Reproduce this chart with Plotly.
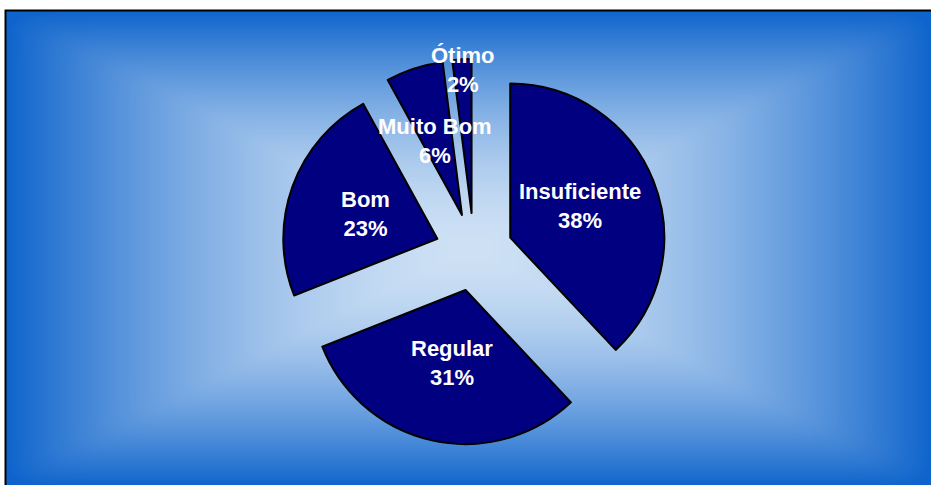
import base64
import struct
import zlib

import numpy as np
import plotly.graph_objects as go

# ---- data ----
labels = ["Insuficiente", "Regular", "Bom", "Muito Bom", "Ótimo"]
values = [38, 31, 23, 6, 2]
label_px = [(580, 206), (452, 363), (365, 214), (435, 141), (463, 70)]

W, H = 931, 485

# ---- background gradient (rectangular path gradient) ----
bx0, by0, bx1, by1 = 6, 11, 933, 487
bw, bh = bx1 - bx0, by1 - by0
xs = np.abs((np.arange(bw) + 0.5 - bw / 2) / (bw / 2))
ys = np.abs((np.arange(bh) + 0.5 - bh / 2) / (bh / 2))
p = 30.0
t = (xs[None, :] ** p + ys[:, None] ** p) ** (1 / p)
f = np.clip(t, 0, 1) ** 1.7
center = np.array([206, 225, 245], dtype=float)
edge = np.array([14, 100, 204], dtype=float)
img = (center[None, None, :] * (1 - f[..., None]) + edge[None, None, :] * f[..., None]).astype(np.uint8)


def png_bytes(arr):
    h, w, _ = arr.shape
    raw = b"".join(b"\x00" + arr[r].tobytes() for r in range(h))

    def chunk(tag, data):
        c = struct.pack(">I", len(data)) + tag + data
        return c + struct.pack(">I", zlib.crc32(tag + data) & 0xFFFFFFFF)

    return (b"\x89PNG\r\n\x1a\n"
            + chunk(b"IHDR", struct.pack(">IIBBBBB", w, h, 8, 2, 0, 0, 0))
            + chunk(b"IDAT", zlib.compress(raw, 9))
            + chunk(b"IEND", b""))


uri = "data:image/png;base64," + base64.b64encode(png_bytes(img)).decode()

# ---- pie ----
pull = 0.253
cx, cy, half = 474, 252, 193
fig = go.Figure(go.Pie(
    labels=labels, values=values, sort=False, direction="clockwise", rotation=0,
    pull=[pull] * len(values),
    marker=dict(colors=["#000080"] * len(values), line=dict(color="black", width=2)),
    textinfo="none", hoverinfo="skip", showlegend=False,
    domain=dict(x=[(cx - half) / W, (cx + half) / W],
                y=[1 - (cy + half) / H, 1 - (cy - half) / H]),
))

for lab, v, (px, py) in zip(labels, values, label_px):
    fig.add_annotation(
        x=px / W, y=1 - py / H, xref="paper", yref="paper",
        text=f"<b>{lab}</b><br><b>{v}%</b>", showarrow=False,
        font=dict(family="Liberation Sans, Arial", size=22, color="white"),
        xanchor="center", yanchor="middle", align="center",
    )

fig.add_layout_image(dict(
    source=uri, xref="paper", yref="paper",
    x=bx0 / W, y=1 - by0 / H, sizex=bw / W, sizey=bh / H,
    xanchor="left", yanchor="top", sizing="stretch", layer="below",
))

fig.add_shape(type="rect", xref="paper", yref="paper",
              x0=(bx0 - 0.5) / W, y0=1 - (by1 + 5) / H, x1=(bx1 + 5) / W, y1=1 - (by0 - 0.5) / H,
              line=dict(color="black", width=2), fillcolor="rgba(0,0,0,0)", layer="above")

fig.update_layout(
    width=W, height=H, margin=dict(l=0, r=0, t=0, b=0),
    paper_bgcolor="white", plot_bgcolor="white",
)

fig.write_html("out.html", config={"displayModeBar": False},
               post_script="document.body.style.margin='0';")
